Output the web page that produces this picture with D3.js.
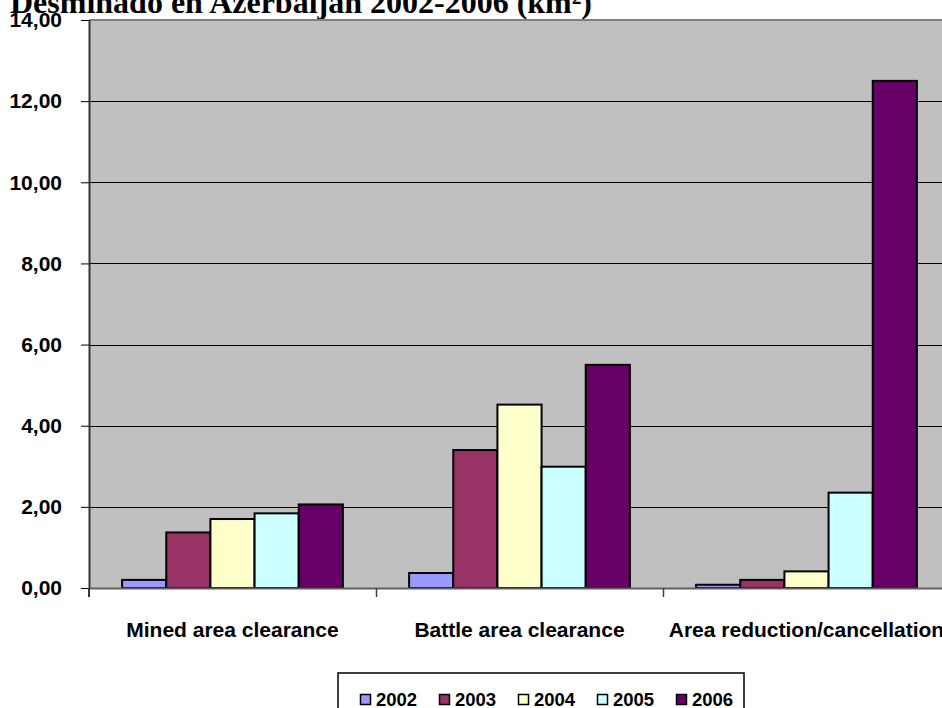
<!DOCTYPE html>
<html>
<head>
<meta charset="utf-8">
<script src="https://cdn.jsdelivr.net/npm/d3@7"></script>
<style>
  html, body { margin: 0; padding: 0; background: #ffffff; overflow: hidden; }
  svg { display: block; }
</style>
</head>
<body>
<svg id="chart" width="942" height="708"></svg>
<script>
// ---- Data ----
const titleText = "Desminado en Azerbaijan 2002-2006 (km²)";
const categories = ["Mined area clearance", "Battle area clearance", "Area reduction/cancellation"];
const years = ["2002", "2003", "2004", "2005", "2006"];
const seriesColors = ["#9999FF", "#993366", "#FFFFCC", "#CCFFFF", "#660066"];
const values2002 = [0.20, 0.37, 0.08];
const values2003 = [1.37, 3.40, 0.20];
const values2004 = [1.70, 4.52, 0.41];
const values2005 = [1.84, 2.99, 2.35];
const values2006 = [2.06, 5.50, 12.50];
const yTickValues = [0, 2, 4, 6, 8, 10, 12, 14];

const seriesValues = [values2002, values2003, values2004, values2005, values2006];

// ---- Layout ----
const svg = d3.select("#chart");
const plot = { left: 89, right: 950, top: 20, bottom: 588 };

const y = d3.scaleLinear().domain([0, 14]).range([plot.bottom, plot.top]);
const x0 = d3.scaleBand().domain(categories).range([plot.left, plot.right]).paddingInner(0).paddingOuter(0);
const x1 = d3.scaleBand().domain(years).range([0, x0.bandwidth()]).paddingInner(0).paddingOuter(0.75);

const locale = d3.formatLocale({ decimal: ",", thousands: ".", grouping: [3], currency: ["", "€"] });
const fmt = locale.format(".2f");

// Title (clipped at the top edge, as in the reference)
svg.append("text")
  .attr("x", 10).attr("y", 13)
  .attr("font-family", "'Liberation Serif', 'Times New Roman', serif")
  .attr("font-weight", "bold")
  .attr("font-size", 32)
  .attr("fill", "#000")
  .text(titleText);

// Plot background
svg.append("rect")
  .attr("x", plot.left).attr("y", plot.top)
  .attr("width", plot.right - plot.left).attr("height", plot.bottom - plot.top)
  .attr("fill", "#C0C0C0");

// Gridlines
svg.append("g").selectAll("line")
  .data(yTickValues.filter(v => v > 0 && v < 14))
  .join("line")
  .attr("x1", plot.left).attr("x2", plot.right)
  .attr("y1", d => Math.round(y(d)) + 0.5).attr("y2", d => Math.round(y(d)) + 0.5)
  .attr("stroke", "#000").attr("stroke-width", 1);

// Top border
svg.append("line")
  .attr("x1", plot.left).attr("x2", plot.right)
  .attr("y1", plot.top).attr("y2", plot.top)
  .attr("stroke", "#808080").attr("stroke-width", 2);

// Bars
const groups = svg.append("g").selectAll("g")
  .data(categories)
  .join("g")
  .attr("transform", d => `translate(${x0(d)},0)`);

groups.selectAll("rect")
  .data((c, ci) => years.map((yr, si) => ({ yr, si, v: seriesValues[si][ci] })))
  .join("rect")
  .attr("x", d => x1(d.yr))
  .attr("y", d => y(d.v))
  .attr("width", x1.bandwidth())
  .attr("height", d => y(0) - y(d.v))
  .attr("fill", d => seriesColors[d.si])
  .attr("stroke", "#000")
  .attr("stroke-width", 2);

// X axis line
svg.append("line")
  .attr("x1", plot.left).attr("x2", plot.right)
  .attr("y1", plot.bottom + 0.5).attr("y2", plot.bottom + 0.5)
  .attr("stroke", "#606060").attr("stroke-width", 2);

// Y axis
const yAxis = d3.axisLeft(y).tickValues(yTickValues).tickSize(8).tickSizeOuter(0).tickFormat(fmt).tickPadding(19);
const yg = svg.append("g").attr("transform", `translate(${plot.left},0)`).call(yAxis);
yg.select(".domain").attr("stroke", "#333").attr("stroke-width", 2);
yg.selectAll(".tick line").attr("stroke", "#000").attr("stroke-width", 1);
yg.selectAll(".tick text")
  .attr("font-family", "'Liberation Sans', Arial, sans-serif")
  .attr("font-weight", "bold")
  .attr("font-size", 21)
  .attr("fill", "#000");
// extend y axis line below baseline
svg.append("line")
  .attr("x1", plot.left).attr("x2", plot.left)
  .attr("y1", plot.bottom).attr("y2", plot.bottom + 9)
  .attr("stroke", "#333").attr("stroke-width", 2);

// X category boundary ticks
const boundaries = categories.slice(1).map(c => x0(c));
svg.append("g").selectAll("line")
  .data(boundaries)
  .join("line")
  .attr("x1", d => Math.round(d) + 0.5).attr("x2", d => Math.round(d) + 0.5)
  .attr("y1", plot.bottom).attr("y2", plot.bottom + 9)
  .attr("stroke", "#404040").attr("stroke-width", 1.5);

// Category labels
svg.append("g").selectAll("text")
  .data(categories)
  .join("text")
  .attr("x", d => x0(d) + x0.bandwidth() / 2)
  .attr("y", 637)
  .attr("text-anchor", "middle")
  .attr("font-family", "'Liberation Sans', Arial, sans-serif")
  .attr("font-weight", "bold")
  .attr("font-size", 21)
  .attr("fill", "#000")
  .text(d => d);

// Legend
const legend = svg.append("g");
legend.append("rect")
  .attr("x", 338).attr("y", 673)
  .attr("width", 406).attr("height", 60)
  .attr("fill", "#fff").attr("stroke", "#000").attr("stroke-width", 1.5);
const items = legend.selectAll("g.item")
  .data(years)
  .join("g")
  .attr("class", "item")
  .attr("transform", (d, i) => `translate(${360 + i * 79},0)`);
items.append("rect")
  .attr("x", 0.5).attr("y", 694.5)
  .attr("width", 10).attr("height", 10)
  .attr("fill", (d, i) => seriesColors[i])
  .attr("stroke", "#000").attr("stroke-width", 1.5);
items.append("text")
  .attr("x", 16).attr("y", 705.5)
  .attr("font-family", "'Liberation Sans', Arial, sans-serif")
  .attr("font-weight", "bold")
  .attr("font-size", 18.5)
  .attr("fill", "#000")
  .text(d => d);
</script>
</body>
</html>
